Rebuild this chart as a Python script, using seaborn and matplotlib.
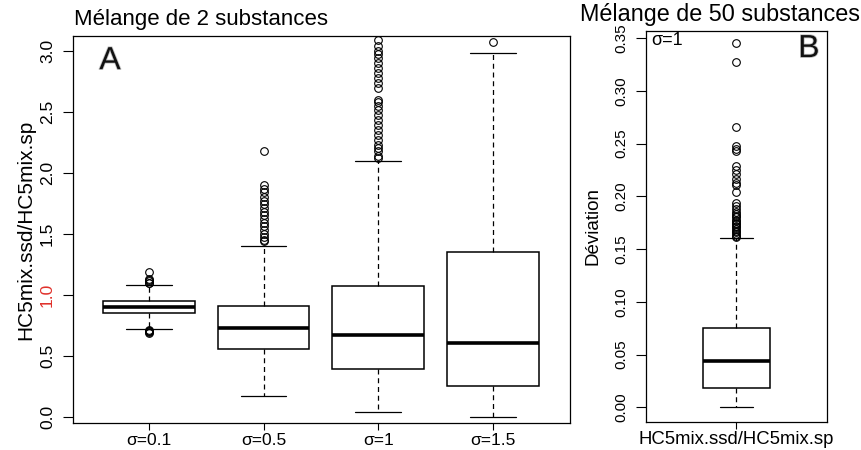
import numpy as np
import pandas as pd
import matplotlib
matplotlib.use("Agg")
import matplotlib.pyplot as plt
import matplotlib.patheffects as pe
import seaborn as sns

# ---------------- Data ----------------
groups = ["σ=0.1", "σ=0.5", "σ=1", "σ=1.5"]
q1 = [0.855, 0.560, 0.393, 0.254]
med = [0.900, 0.730, 0.672, 0.604]
q3 = [0.948, 0.907, 1.076, 1.347]
whisk_lo = [0.720, 0.175, 0.038, 0.003]
whisk_hi = [1.082, 1.400, 2.100, 2.980]

out_s01 = [0.690, 0.695, 0.700, 0.705, 0.710, 1.095, 1.100, 1.110, 1.120, 1.130, 1.185]
out_s05 = [1.437, 1.450, 1.470, 1.500, 1.530, 1.560, 1.590, 1.620, 1.650, 1.680,
           1.710, 1.740, 1.770, 1.800, 1.840, 1.870, 1.900, 2.175]
out_s1 = [2.120, 2.134, 2.175, 2.200, 2.230, 2.270, 2.311, 2.352, 2.393, 2.434,
          2.475, 2.516, 2.549, 2.576, 2.598, 2.694, 2.735, 2.776, 2.817, 2.858,
          2.899, 2.940, 2.975, 2.994, 3.040, 3.085]
out_s15 = [3.070]

b_label = "HC5mix.ssd/HC5mix.sp"
b_q1 = 0.0187
b_med = 0.0438
b_q3 = 0.0755
b_lo = 0.000
b_hi = 0.160
b_out = [0.1612, 0.1625, 0.1645, 0.1660, 0.1675, 0.1690, 0.1705, 0.1720, 0.1735,
         0.1750, 0.1765, 0.1780, 0.1800, 0.1815, 0.1830, 0.1850, 0.1880, 0.1910,
         0.1940, 0.2040, 0.2110, 0.2130, 0.2165, 0.2210, 0.2250, 0.2290, 0.2430,
         0.2450, 0.2480, 0.2660, 0.3270, 0.3450]

yticks_a = [0.0, 0.5, 1.0, 1.5, 2.0, 2.5, 3.0]
yticks_b = [0.00, 0.05, 0.10, 0.15, 0.20, 0.25, 0.30, 0.35]


def sample(lo, a, m, b, hi, outs):
    """Sample whose box-plot statistics equal the values read above."""
    low = [v for v in outs if v < a]
    high = [v for v in outs if v > b]
    k = 4 * (len(outs) + 2) + 10
    return low + [lo] + [a] * k + [m] * k + [b] * k + [hi] + high


outs_all = [out_s01, out_s05, out_s1, out_s15]
rows = []
for i, g in enumerate(groups):
    for v in sample(whisk_lo[i], q1[i], med[i], q3[i], whisk_hi[i], outs_all[i]):
        rows.append((g, v))
df_a = pd.DataFrame(rows, columns=["group", "value"])
df_b = pd.DataFrame({"group": b_label,
                     "value": sample(b_lo, b_q1, b_med, b_q3, b_hi, b_out)})

# ---------------- Style ----------------
sns.set_style("white")
plt.rcParams["font.family"] = ["Liberation Sans", "DejaVu Sans"]
plt.rcParams["text.color"] = "black"
plt.rcParams["axes.labelcolor"] = "black"

fig = plt.figure(figsize=(8.62, 4.5), dpi=100)
W, H = 862, 450
axA = fig.add_axes([73 / W, 1 - 423 / H, (570 - 73) / W, (423 - 36) / H])
axB = fig.add_axes([646 / W, 1 - 421.7 / H, (827 - 646) / W, (421.7 - 30.7) / H])

box_kw = dict(
    color="white", saturation=1, linecolor="black", linewidth=1.0, whis=1.5,
    boxprops=dict(linewidth=1.1, edgecolor="black", facecolor="white"),
    medianprops=dict(linewidth=2.6, color="black", solid_capstyle="butt"),
    whiskerprops=dict(linestyle=(0, (4, 3)), linewidth=0.9, color="black"),
    capprops=dict(linewidth=0.9, color="black"),
    flierprops=dict(marker="o", markersize=5.5, markerfacecolor="none",
                    markeredgecolor="black", markeredgewidth=0.8),
)

sns.boxplot(data=df_a, x="group", y="value", order=groups, width=0.8, ax=axA, **box_kw)
sns.boxplot(data=df_b, x="group", y="value", width=0.4, ax=axB, **box_kw)

for ax in (axA, axB):
    ax.set_xlabel("")
    ax.set_ylabel("")
    for s in ax.spines.values():
        s.set_visible(True)
        s.set_color("black")
        s.set_linewidth(0.9)
    ax.tick_params(axis="x", direction="out", length=5, width=0.8, pad=2,
                   labelsize=12.5, colors="black", bottom=True)
    ax.tick_params(axis="y", direction="out", length=7, width=0.8, pad=6,
                   colors="black", left=True)
axB.tick_params(axis="x", labelsize=13.3)

# Panel A axes
axA.set_xlim(-0.66, 3.67)
axA.set_ylim(-0.05, 3.12)
axA.set_yticks(yticks_a)
axA.set_yticklabels([f"{v:.1f}" for v in yticks_a], fontsize=12.5)
for lbl in axA.get_yticklabels():
    lbl.set_rotation(90)
    lbl.set_va("center")
    if lbl.get_text() == "1.0":
        lbl.set_color("#e0312b")
axA.set_ylabel("HC5mix.ssd/HC5mix.sp", fontsize=15, color="black")
axA.yaxis.set_label_coords(-0.075, 0.5)

# Panel B axes
axB.set_xlim(-0.54, 0.54)
axB.set_ylim(-0.0137, 0.357)
axB.set_yticks(yticks_b)
axB.set_yticklabels([f"{v:.2f}" for v in yticks_b], fontsize=11)
for lbl in axB.get_yticklabels():
    lbl.set_rotation(90)
    lbl.set_va("center")
axB.set_ylabel("Déviation", fontsize=13.5, color="black")
axB.yaxis.set_label_coords(-0.245, 0.5)

# Annotations
halo = [pe.withStroke(linewidth=1.2, foreground="#c4c4c4")]
axA.text(0.0745, 0.935, "A", transform=axA.transAxes, fontsize=23,
         ha="center", va="center", color="#111111", path_effects=halo)
axB.text(0.9, 0.953, "B", transform=axB.transAxes, fontsize=23,
         ha="center", va="center", color="#111111", path_effects=halo)
axB.text(0.028, 0.974, "σ=1", transform=axB.transAxes, fontsize=13,
         ha="left", va="center", color="black")

fig.text(74 / W, 1 - 25 / H, "Mélange de 2 substances", fontsize=16,
         ha="left", va="baseline", color="black")
fig.text(580 / W, 1 - 21 / H, "Mélange de 50 substances", fontsize=16.8,
         ha="left", va="baseline", color="black")

fig.savefig("out.png", dpi=100)
